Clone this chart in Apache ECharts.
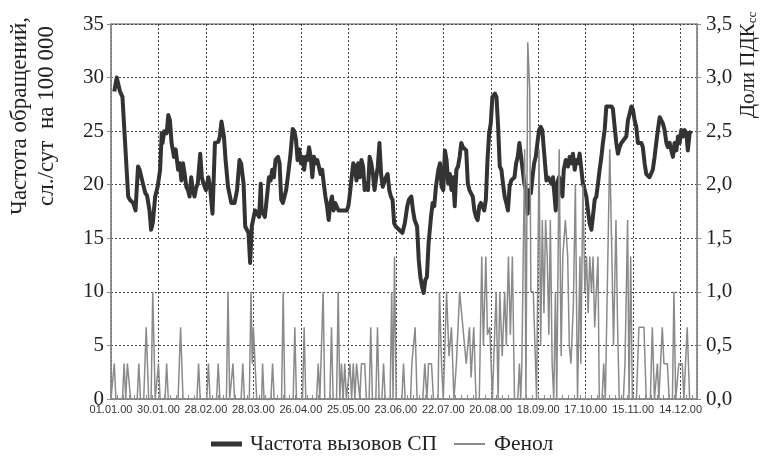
<!DOCTYPE html>
<html><head><meta charset="utf-8">
<script src="https://cdn.jsdelivr.net/npm/echarts@6/dist/echarts.min.js"></script>
<style>html,body{margin:0;padding:0;background:#fff}#c{width:775px;height:462px}</style>
</head><body><div id="c"></div>
<script>
// X tick labels (every 29 days from 01.01.00)
const xTickLabels = ['01.01.00','30.01.00','28.02.00','28.03.00','26.04.00','25.05.00','23.06.00','22.07.00','20.08.00','18.09.00','17.10.00','15.11.00','14.12.00'];
const leftTickLabels = ['0','5','10','15','20','25','30','35'];
const rightTickLabels = ['0,0','0,5','1,0','1,5','2,0','2,5','3,0','3,5'];

// Частота вызовов СП: [day from 01.01.00, value]
const callsDays = [2,3.5,4.5,5.5,7,10.5,11.5,13.5,15,16.5,17.5,19.5,21,22,23.5,24.5,25.5,27,28.5,30,31,31.5,32.5,34,35,36,37,38.5,39.5,41,42,43,44,45,46,47,48,49,50,51,52,53,54.5,55.5,56.5,58,59.5,60.5,62,63.5,65.5,66.5,67.5,69,70,71.5,73.5,75.5,77,78.5,79.5,81,82,84,85,86,88,89,90.5,91.5,92,94,95,96.5,97.5,98.5,99.5,100.5,102,103,104,105,107,108,109.5,111,112,113,114,115,116,117,118,119,120,121,122,123,124,125,126,127,128,129,130,131,132,133,134,135,136,137,139,141,144,145,146,147,148,149,150,151,152,153,154,155,156,157,158,159,160,161,162,163,164,165,166,167,168,169,170,171,172,173,174,176,178,179.5,181,182,183.5,184.5,185.5,187,188,189,190,191,192,193,194,195.5,196.5,197.5,198.5,200,201,202,203,204,205,206,207,208,209,210,211,212,213,214,215,216,217,218,219,220,221,222,223,224,225,226,227,228,229,230,231,232,233,234.5,235.5,236.5,237.5,238.5,239.5,240.5,241.5,242.5,243.5,244.5,245.5,246.5,247.5,248.5,249.5,250.5,251.5,252.5,253.5,254.5,255.5,256.5,257.5,258.5,259.5,260.5,261.5,262.5,263.5,264.5,266,267,268,269,270,271,271.7,272.5,273.7,274.7,275.8,276.6,277.8,279.2,280.2,281.3,282.2,283.3,284.3,285.3,286.3,287.4,288.3,289.4,290.4,291.4,292.4,293.5,294.4,295.5,296.5,297.5,298.5,299.6,300.5,301.6,302.6,305.7,306.6,307.7,308.7,309.7,310.7,311.8,314.8,315.8,316.8,317.9,318.9,319.9,320.9,321.9,324,324.9,326,327,328,329,330.1,331,332.1,333.1,334.1,335.2,336.2,337.2,338.2,339.3,340.2,341.3,342.3,343.3,344.3,345.4,346.4,347.4,348.4,349.4,350.4,351.5,352.4,353.5,354.5];
const callsValues = [28.7,30,30,28.7,28.2,18.9,18.6,18.3,17.6,21.7,21.4,20.1,19.2,19,17.6,15.8,16.4,18.9,19.8,21.4,24.8,23.9,25,24.8,26.5,26,23.9,22.6,23.3,21.4,22,20.4,22,21,19.8,19.5,18.9,20.7,19.5,18.9,19.7,20.1,22.9,20.7,20.1,19.5,20.7,19.8,17.3,23.9,24,24.5,25.9,24.5,22.3,19.8,18.3,18.3,19.5,22.3,22,20.1,16.1,15.5,12.7,16.1,17.6,17.6,17,20.1,17.6,17,17,20.7,20.4,21.4,20.7,22.3,22.6,22,18.6,18.3,19.5,20.7,22.6,25.2,25,24.2,22.3,23.3,22,22.6,21.4,22.6,22.3,23.5,22.6,20.7,22.6,22,22.3,21.7,21,21.4,20.1,18.9,18,16.7,18.3,18.9,17.6,18.3,17.6,17.6,17.6,18,19.2,20.7,22,21.7,20.4,22,20.7,22.3,21.7,19.5,20.1,19.5,22.6,22,21,19.5,20.7,21.7,23.9,21,19.8,19.8,20.7,21,19.5,18.9,18.6,16.4,16.1,15.8,15.5,16.4,18,18.6,18.9,17.6,16.7,16.1,13,11.4,10.5,9.9,11.1,11.4,14.5,17,18.3,18,19.8,21.4,22,19.8,19.5,23.2,22.3,20.1,21,19.5,20.7,18,21.4,21.7,22.6,23.9,23.5,23.5,23.2,20.1,19.5,19.2,18.9,17.6,17,16.7,18,18.3,18.3,17.6,18.6,22.3,24.8,25.7,28.2,28.5,28.2,25.4,21.7,21.4,20.1,18.9,18.3,17.6,19.8,20.4,20.4,20.7,22,22.6,23.9,23.9,21.4,20.1,19.5,17.3,19.5,19.2,20.7,22,22.6,23.9,25.1,25.4,25.1,23.2,20.4,20.7,20.7,20.1,20.7,18.9,17.6,20.1,20.7,20.1,18.9,21.4,22.3,21.7,22.6,22,22.9,21.4,22.3,22,22.9,22.9,20.1,19.5,18.9,17.6,16.4,15.8,17,18.6,18.9,20.1,21.4,22.6,23.9,25.1,27.3,27.3,27.1,25.4,23.9,22.9,23.5,23.9,24.5,26,26.6,27.3,27,26,25.4,23.9,23.9,23.5,22,21,21,20.7,20.8,21.4,22.6,23.9,25.1,26.3,26,25.7,25.1,23.9,23.5,23.9,23.2,22.6,23.9,23.2,24.5,23.9,25.1,24.5,25.1,24.8,23.2,24.8,25];

// Фенол (доли ПДК сс): [day, value]
const phenolDays = [0,2,3,7,8,9,10,11,12,16,17,18,20,21.5,23,24.5,25.5,27,29,30,33,34,35,41,42.5,44,52.5,53.5,54.5,58.5,59.5,60.5,64.5,65.5,66.5,70.5,71.5,72.5,73.5,74.5,75.5,79.5,80.5,81.5,84.5,85.5,86.3,87,88,89,92,92.6,93.5,97.7,98.7,99.7,104.2,105.2,106.2,111.3,112.3,113.3,117,118,119,125.6,126.6,127.6,128.6,129.6,130.6,133.7,134.7,135.7,137.8,138.8,139.8,140.8,141.8,142.8,143.8,145,146,147,148,149,150,151,152,153,154,155,156,157.7,158.7,159.7,161.8,162.8,163.8,165.5,166.5,167.5,170.5,171.5,172.3,173.2,174.2,177.7,178.7,179.7,183,183.8,184.8,185.8,187,190.5,191.7,193,194,195,195.8,197,199.8,200.7,202,203,205,206.5,208,209.5,211,213,214,215,217,219,220,221.6,223,225,226.5,227.5,229,230,231.4,233,234,235.3,236.5,237.5,239,240.5,241.5,242.8,244,245.2,246.5,248.5,249.5,250.3,251,252.7,253.5,254.6,255.8,256.5,258,259,260,261.5,262.5,263.5,264.5,265.5,266.5,267.5,268.4,269.5,270.5,271.5,272.3,273.8,275,276,277.6,279,280,281,282.5,283.7,285,286.5,287,288.3,289.5,290.5,291.5,292.5,293.5,294.5,295.5,296.5,297.5,298.3,300,301,302,304.7,306,307,308.5,309.5,310.5,313,314,315.6,316.5,317.5,318.5,321,322.5,325.6,327,329.5,330.7,332,333,333.8,334.7,335.8,336.8,337.8,339.9,341,343,343.9,345,346,346.9,349,350,351,352,353.5];
const phenolValues = [0,0.33,0,0,0.33,0,0.33,0.33,0,0,0.33,0,0,0.67,0,0,1.0,0,0.33,0,0,0.33,0,0,0.67,0,0,0.33,0,0,0.33,0,0,0.33,0,0,1.0,0,0,0.33,0,0,0.33,0,0,1.0,0.33,0.67,0.67,0,0,0.33,0,0,0.33,0,0,1.0,0,0,0.67,0,0,0.67,0,0,0.33,0,0,1.0,0,0,0.67,0,0,1.0,0,0.33,0,0.33,0,0,0.33,0,0.33,0,0.33,0.33,0,0.33,0.33,0.33,0,0,0.67,0,0,0.67,0,0,0.33,0,0,1.0,0,1.33,0,0,0.33,0,0,0.33,0.33,0.67,0,0,0.33,0,0.33,0.33,0.33,0,0,1.0,0.3,0,1.0,0.4,0.67,0,0.33,1.0,1.0,0.67,0.33,0.67,0.2,0.67,0,0,1.33,0.5,1.33,0.6,0.67,0,0,1.0,0,1.0,0.4,1.0,0.5,1.33,0.6,1.33,0,0,0.33,0,0.33,2.33,0,3.33,2.9,1.0,1.0,1.0,0,2.33,0.5,1.67,0.8,1.67,1.33,0.6,1.67,0.33,0,1.0,0,2.33,0.4,1.33,1.67,1.33,0.5,0.33,0.9,2.0,0,1.33,0.33,2.0,1.0,1.33,0.8,1.33,1.0,1.33,0.67,0.67,1.33,0,0,0.33,0,2.33,1.33,0.5,1.67,0.67,0,0,0.33,1.67,0,1.33,0,0,0.67,0.67,0,0,0.67,0,0,0.33,0,0,0.67,0.33,0.33,0,0,1.0,0,0,0.33,0.33,0,0,0.67,0];

const seriesNames = ['Частота вызовов СП','Фенол'];

const calls = callsDays.map((d,i)=>[d, callsValues[i]]);
const phenol = phenolDays.map((d,i)=>[d, phenolValues[i]]);

const serif = '"Liberation Serif","DejaVu Serif",serif';
const sans = '"Liberation Sans","DejaVu Sans",sans-serif';
const callsColor = '#333333';
const phenolColor = '#8a8a8a';

const chart = echarts.init(document.getElementById('c'), null, {renderer:'canvas'});
chart.setOption({
  animation:false,
  backgroundColor:'#fff',
  grid:{left:111,right:78,top:24,bottom:63,show:true,borderColor:'#8c8c8c',borderWidth:1.5,backgroundColor:'transparent'},
  legend:[
    {left:206,top:428,itemWidth:31,itemHeight:5,icon:'rect',
     textStyle:{fontFamily:serif,fontSize:21.5,color:'#222',padding:[0,0,0,3]},
     data:[{name:seriesNames[0],icon:'rect'}]},
    {left:449,top:428,itemWidth:31,itemHeight:2,icon:'rect',
     textStyle:{fontFamily:serif,fontSize:21.5,color:'#222',padding:[0,0,0,4]},
     data:[{name:seriesNames[1],icon:'rect'}]}
  ],
  xAxis:{
    type:'value',min:0,max:358,interval:29,
    axisLine:{show:true,lineStyle:{color:'#8c8c8c',width:1.5}},
    axisTick:{show:true,inside:true,length:4,lineStyle:{color:'#8c8c8c'}},
    minorTick:{show:true,splitNumber:8,length:4,lineStyle:{color:'#8c8c8c'}},
    axisLabel:{fontFamily:sans,fontSize:11,color:'#333',margin:5,showMaxLabel:false,
      formatter:(v)=>{const i=Math.round(v/29);return (Math.abs(v-i*29)<0.01 && xTickLabels[i])?xTickLabels[i]:'';}},
    splitLine:{show:true,lineStyle:{color:'#444',type:[2,2],width:1}}
  },
  yAxis:[
    {type:'value',min:0,max:35,interval:5,position:'left',
     axisLine:{show:true,lineStyle:{color:'#8c8c8c',width:1.5}},
     axisTick:{show:true,length:4,lineStyle:{color:'#8c8c8c'}},
     axisLabel:{fontFamily:serif,fontSize:21,color:'#222',margin:7,
       formatter:(v)=>leftTickLabels[Math.round(v/5)]},
     splitLine:{show:true,lineStyle:{color:'#444',type:[2,2],width:1}}},
    {type:'value',min:0,max:3.5,interval:0.5,position:'right',
     axisLine:{show:true,lineStyle:{color:'#8c8c8c',width:1.5}},
     axisTick:{show:true,length:4,lineStyle:{color:'#8c8c8c'}},
     axisLabel:{fontFamily:serif,fontSize:21,color:'#222',margin:9,
       formatter:(v)=>rightTickLabels[Math.round(v/0.5)]},
     splitLine:{show:false}}
  ],
  graphic:[
    {type:'text',x:33,y:116,rotation:Math.PI/2,
     style:{text:'Частота обращений,\nсл./сут  на 100 000',fontFamily:serif,fontSize:23,fill:'#222',align:'center',verticalAlign:'middle',lineHeight:27}},
    {type:'text',x:748,y:65,rotation:Math.PI/2,
     style:{text:'{a|Доли ПДК}{b|сс}',fill:'#222',align:'center',verticalAlign:'middle',
       rich:{a:{fontFamily:serif,fontSize:21,fill:'#222'},b:{fontFamily:serif,fontSize:13,fill:'#222',padding:[10,0,0,0]}}}}
  ],
  series:[
    {name:seriesNames[0],type:'line',yAxisIndex:0,data:calls,symbol:'none',z:3,
     lineStyle:{color:callsColor,width:4,join:'round'},itemStyle:{color:callsColor}},
    {name:seriesNames[1],type:'line',yAxisIndex:1,data:phenol,symbol:'none',z:4,
     lineStyle:{color:phenolColor,width:1.5},itemStyle:{color:phenolColor}}
  ]
});
</script></body></html>
